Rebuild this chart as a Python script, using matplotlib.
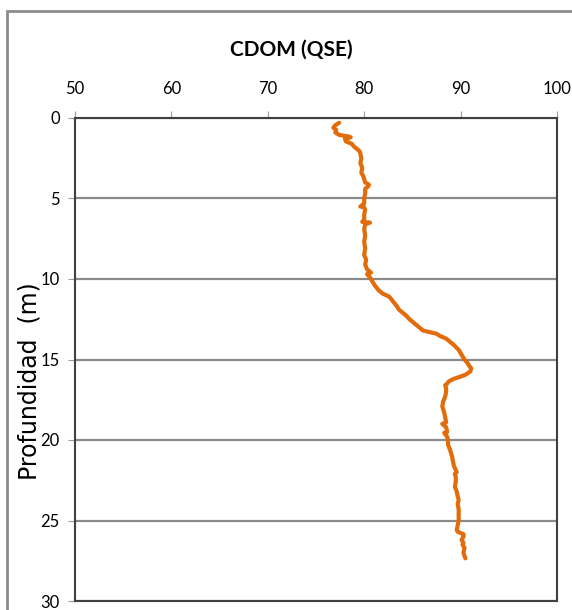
import matplotlib.pyplot as plt
from matplotlib.patches import Rectangle

# perfil CDOM vs profundidad
depth = [0.30, 0.45, 0.60, 0.75, 0.90, 1.05, 1.15, 1.20, 1.30, 1.45, 1.60, 1.75, 1.90,
         2.05, 2.20, 2.50, 2.80, 3.10, 3.40, 3.60, 3.80, 4.00, 4.15, 4.25, 4.40, 4.70,
         5.00, 5.30, 5.50, 5.55, 5.70, 6.00, 6.30, 6.45, 6.50, 6.60, 6.90, 7.30, 7.70,
         8.10, 8.50, 8.80, 9.10, 9.40, 9.60, 9.70, 9.90, 10.10, 10.40, 10.70, 10.90,
         11.10, 11.40, 11.70, 11.90, 12.10, 12.30, 12.50, 12.70, 12.90, 13.05, 13.20,
         13.30, 13.40, 13.55, 13.70, 13.90, 14.10, 14.40, 14.60, 14.80, 15.00, 15.20,
         15.40, 15.55, 15.75, 15.95, 16.10, 16.20, 16.35, 16.50, 16.60, 16.80, 17.00,
         17.30, 17.60, 17.90, 18.10, 18.30, 18.60, 18.90, 19.00, 19.20, 19.50, 19.55,
         19.80, 20.00, 20.30, 20.60, 21.00, 21.30, 21.60, 22.00, 22.10, 22.30, 22.60,
         22.90, 23.20, 23.50, 23.70, 24.00, 24.30, 24.60, 25.00, 25.30, 25.60, 25.70,
         25.85, 26.00, 26.20, 26.40, 26.50, 26.70, 27.00, 27.20, 27.35]
cdom = [77.4, 77.0, 76.8, 77.1, 77.0, 77.4, 78.4, 78.6, 78.0, 78.1, 78.7, 78.9, 79.2,
        79.5, 79.6, 79.7, 79.6, 79.8, 79.7, 79.9, 80.0, 80.1, 80.5, 80.4, 80.1, 80.1,
        80.0, 80.0, 79.6, 80.0, 80.1, 80.0, 80.0, 79.8, 80.6, 80.1, 80.0, 80.1, 80.0,
        80.1, 80.0, 80.2, 80.1, 80.3, 80.7, 80.3, 80.6, 80.8, 81.1, 81.5, 81.9, 82.6,
        83.0, 83.4, 83.6, 84.0, 84.4, 84.7, 85.1, 85.5, 85.8, 86.1, 86.8, 87.5, 87.9,
        88.5, 88.9, 89.3, 89.8, 90.0, 90.2, 90.4, 90.7, 90.9, 91.1, 91.0, 90.5, 89.8,
        89.3, 88.8, 88.6, 88.4, 88.5, 88.5, 88.4, 88.2, 88.1, 88.2, 88.3, 88.4, 88.5,
        88.1, 88.5, 88.6, 88.3, 88.6, 88.7, 88.7, 88.9, 89.1, 89.2, 89.3, 89.6, 89.4,
        89.5, 89.5, 89.4, 89.6, 89.7, 89.8, 89.7, 89.8, 89.8, 89.8, 89.7, 89.6, 89.7,
        90.3, 90.3, 90.1, 90.3, 90.2, 90.4, 90.3, 90.4, 90.5]

xticks = [50, 60, 70, 80, 90, 100]
yticks = [0, 5, 10, 15, 20, 25, 30]

fig = plt.figure(figsize=(5.72, 6.10), dpi=100)

# marco exterior del grafico (solo se ven el borde izquierdo y el superior)
fig.patches.append(Rectangle((7 / 572, -0.05), 1.0, 1 - 11 / 610 + 0.05,
                             transform=fig.transFigure, fill=False,
                             edgecolor='#8c8c8c', linewidth=2))

ax = fig.add_axes([75 / 572, 1 - 601 / 610, 482 / 572, 483 / 610])
ax.plot(cdom, depth, color='#e36c0a', linewidth=3, solid_capstyle='round',
        solid_joinstyle='round')

ax.set_xlim(50, 100)
ax.set_ylim(30, 0)
ax.set_xticks(xticks)
ax.set_yticks(yticks)
ax.xaxis.tick_top()
ax.tick_params(axis='x', direction='out', length=5, color='#9a9a9a', pad=10,
               labelsize=12)
ax.tick_params(axis='y', direction='out', length=5, color='#9a9a9a', pad=6,
               labelsize=12)
for lab in ax.get_xticklabels() + ax.get_yticklabels():
    lab.set_fontfamily('Lato')

ax.yaxis.grid(True, color='#8a8a8a', linewidth=1.6)
ax.set_axisbelow(True)
for s in ax.spines.values():
    s.set_color('#404040')
    s.set_linewidth(1.5)

fig.text(291 / 572, 1 - 50 / 610, 'CDOM (QSE)', ha='center', va='center',
         fontsize=15, fontweight='bold', fontfamily='Lato')
fig.text(30 / 572, 1 - 381 / 610, 'Profundidad  (m)', ha='center', va='center',
         rotation=90, fontsize=17, fontfamily='DejaVu Sans')

fig.savefig('out.png', dpi=100)
